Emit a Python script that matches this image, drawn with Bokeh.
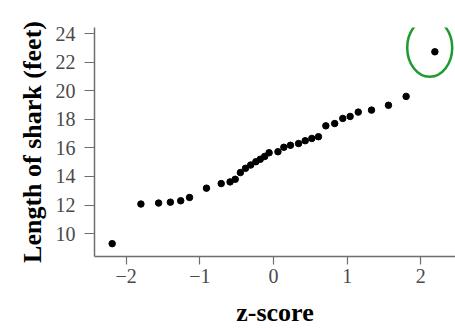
from bokeh.plotting import figure
from bokeh.models import Range1d, FixedTicker, ColumnDataSource
from bokeh.embed import file_html
from bokeh.resources import INLINE

z_score = [-2.19, -1.80, -1.56, -1.40, -1.26, -1.14, -0.91, -0.71, -0.59, -0.52,
           -0.45, -0.38, -0.31, -0.24, -0.18, -0.12, -0.06, 0.06, 0.14, 0.23,
           0.34, 0.43, 0.52, 0.61, 0.71, 0.83, 0.94, 1.04, 1.15, 1.33,
           1.56, 1.80, 2.19]
length_ft = [9.3, 12.07, 12.14, 12.2, 12.3, 12.53, 13.18, 13.5, 13.62, 13.8,
             14.27, 14.57, 14.8, 15.03, 15.2, 15.4, 15.66, 15.73, 16.04, 16.18,
             16.3, 16.5, 16.66, 16.78, 17.54, 17.7, 18.06, 18.2, 18.5, 18.64,
             18.98, 19.6, 22.72]
x_ticks = [-2, -1, 0, 1, 2]
x_tick_labels = {-2: "\u22122", -1: "\u22121", 0: "0", 1: "1", 2: "2"}
y_ticks = [10, 12, 14, 16, 18, 20, 22, 24]

FONT = "Liberation Serif"

p = figure(width=455, height=329, output_backend="svg", toolbar_location=None,
           x_range=Range1d(-2.43, 2.47), y_range=Range1d(8.4, 24.42),
           min_border_left=94, min_border_right=0, min_border_top=27,
           min_border_bottom=72)
p.outline_line_color = None
p.xgrid.visible = False
p.ygrid.visible = False
p.background_fill_color = "white"

src = ColumnDataSource(dict(x=z_score, y=length_ft))
p.scatter("x", "y", source=src, size=6.5, color="black")

# circled outlier (hand-drawn annotation)
p.ellipse(x=[2.12], y=[23.0], width=45, height=58, width_units="screen",
          height_units="screen", fill_color=None, line_color="#1f9a2e", line_width=2.5)

for ax in (p.xaxis[0], p.yaxis[0]):
    ax.axis_line_color = "#6e6e6e"
    ax.axis_line_width = 1.5
    ax.major_tick_line_color = "#6e6e6e"
    ax.major_tick_line_width = 1.2
    ax.minor_tick_line_color = None
    ax.major_tick_in = 0
    ax.major_label_text_font = FONT
    ax.major_label_text_font_size = "20px"
    ax.major_label_text_color = "#4a4a4a"
    ax.axis_label_text_font = FONT
    ax.axis_label_text_font_size = "26px"
    ax.axis_label_text_font_style = "bold"
    ax.axis_label_text_color = "black"

p.xaxis.ticker = FixedTicker(ticks=x_ticks)
p.xaxis.major_label_overrides = x_tick_labels
p.xaxis.major_tick_out = 8
p.xaxis.major_label_standoff = 4
p.xaxis.axis_label = "z-score"
p.xaxis.axis_label_standoff = 12

p.yaxis.ticker = FixedTicker(ticks=y_ticks)
p.yaxis.major_tick_out = 10
p.yaxis.major_label_standoff = 9
p.yaxis.axis_label = "Length of shark (feet)"
p.yaxis.axis_label_standoff = 6

open("out.html", "w").write(file_html(p, INLINE))
